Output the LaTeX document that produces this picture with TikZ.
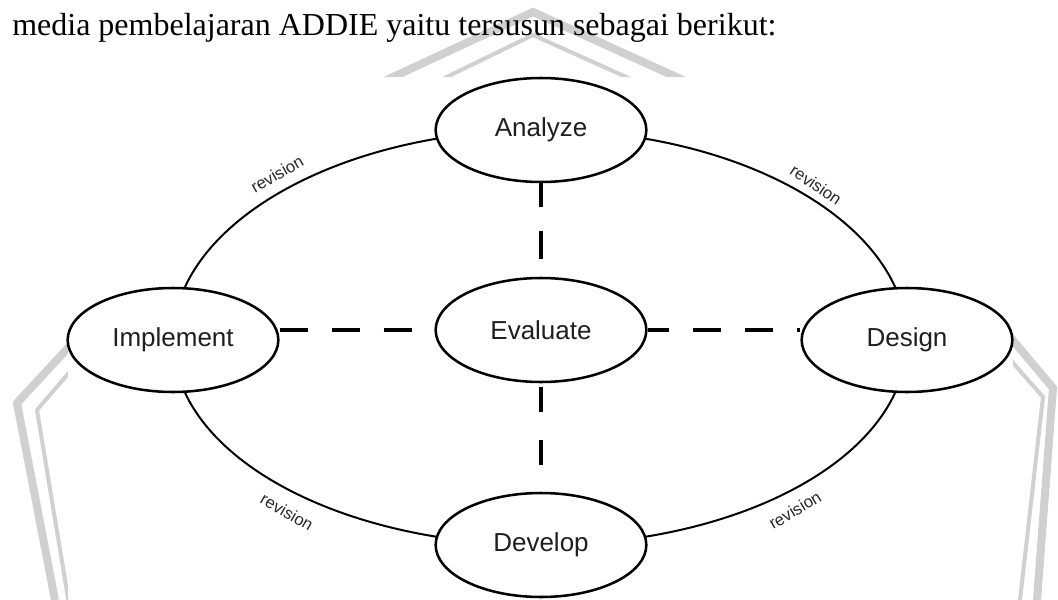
\documentclass[tikz,border=0pt]{standalone}
\usepackage{fontspec}
\setmainfont{Liberation Serif}
\newfontfamily\diagsans{Liberation Sans}
\usetikzlibrary{backgrounds,shapes.geometric}
\definecolor{wmgray}{RGB}{208,208,208}
\definecolor{labelgray}{RGB}{40,40,40}
\begin{document}
\begin{tikzpicture}[x=0.75pt,y=-0.75pt,
  phase/.style={ellipse, draw=black, line width=1.9pt, fill=white,
    minimum width=158pt, minimum height=78pt, inner sep=0pt,
    font=\diagsans\fontsize{19.5}{22}\selectfont, text=black!88},
  revlabel/.style={font=\diagsans\fontsize{12.5}{14}\selectfont, text=labelgray, inner sep=0pt},
  cycleline/.style={line width=1.5pt, black},
  evalline/.style={line width=3pt, black, dash pattern=on 21pt off 18pt},
  wmthick/.style={wmgray, line width=6pt, line join=miter},
  wmthin/.style={wmgray, line width=3pt, line join=miter}
]
\useasboundingbox (0,0) rectangle (1058,600);

% title
\node[anchor=base west, inner sep=0pt, font=\fontsize{24}{28}\selectfont] (title) at (12,35)
  {media pembelajaran ADDIE yaitu tersusun sebagai berikut:};

% phases
\node[phase] (analyze) at (541,130) {Analyze};
\node[phase] (evaluate) at (541,330) {Evaluate};
\node[phase] (implement) at (173,340) {Implement};
\node[phase] (design) at (907,340) {Design};
\node[phase] (develop) at (541,545) {Develop};

% revision labels
\node[revlabel, rotate=30] (revtl) at (277,174) {revision};
\node[revlabel, rotate=-34] (revtr) at (816,185) {revision};
\node[revlabel, rotate=-30] (revbl) at (287,512) {revision};
\node[revlabel, rotate=31] (revbr) at (795,510) {revision};

\begin{scope}[on background layer]
  \fill[white] (0,0) rectangle (1058,600);
  % watermark
  \draw[wmthick] (365,90) -- (533,12) -- (705,90);
  \draw[wmthin] (420,90) -- (533,35) -- (655,90);
  \draw[wmthick] (80,335) -- (17,403) -- (55,600);
  \draw[wmthin] (80,360) -- (37,410) -- (70,610);
  \draw[wmthick] (1000,325) -- (1053,388) -- (1037,600);
  \draw[wmthin] (1000,348) -- (1043,397) -- (1020,600);
  \fill[white] (68,77) rectangle (1013,600);
  % cycle
  \draw[cycleline] (analyze.center) .. controls +(-203,0) and +(0,-115) .. (implement.center);
  \draw[cycleline] (implement.center) .. controls +(0,115) and +(-203,0) .. (develop.center);
  \draw[cycleline] (develop.center) .. controls +(203,0) and +(0,115) .. (design.center);
  \draw[cycleline] (design.center) .. controls +(0,-115) and +(203,0) .. (analyze.center);
  % evaluation links
  \draw[evalline, dash phase=3pt] (analyze.south) -- (evaluate.north);
  \draw[evalline, dash pattern=on 19pt off 21pt, dash phase=37.5pt, shorten >=6pt] (evaluate.south) -- (develop.north);
  \draw[evalline] (implement.east |- evaluate.center) -- (evaluate.west);
  \draw[evalline, dash phase=5.25pt] (evaluate.east) -- (design.west |- evaluate.center);
\end{scope}
\end{tikzpicture}
\end{document}
